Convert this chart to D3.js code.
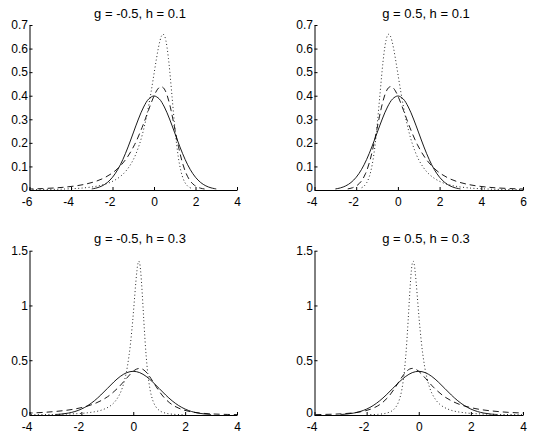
<!DOCTYPE html>
<html>
<head>
<meta charset="utf-8">
<script src="https://cdn.jsdelivr.net/npm/d3@7"></script>
<style>
  html, body { margin: 0; padding: 0; background: #fff; }
  svg { display: block; font-family: "Liberation Sans", Arial, sans-serif; }
  .tick text { font-size: 12px; fill: #000; }
  .title { font-size: 13px; fill: #000; }
</style>
</head>
<body>
<svg id="chart" width="534" height="440"></svg>
<script>
// ---------------- data ----------------
const titles = ["g = -0.5, h = 0.1", "g = 0.5, h = 0.1", "g = -0.5, h = 0.3", "g = 0.5, h = 0.3"];
const xTicksA = [-6, -4, -2, 0, 2, 4];
const xTicksB = [-4, -2, 0, 2, 4, 6];
const xTicksC = [-4, -2, 0, 2, 4];
const yTicksTop = [0, 0.1, 0.2, 0.3, 0.4, 0.5, 0.6, 0.7];
const yTicksBottom = [0, 0.5, 1, 1.5];

// standard normal (solid)
const normX = [-3, -2.75, -2.5, -2.25, -2, -1.75, -1.5, -1.25, -1, -0.75, -0.5, -0.25, 0, 0.25, 0.5, 0.75, 1, 1.25, 1.5, 1.75, 2, 2.25, 2.5, 2.75, 3];
const normY = [0.00443, 0.00909, 0.01753, 0.03174, 0.05399, 0.08628, 0.12952, 0.18265, 0.24197, 0.30114, 0.35207, 0.38667, 0.39894, 0.38667, 0.35207, 0.30114, 0.24197, 0.18265, 0.12952, 0.08628, 0.05399, 0.03174, 0.01753, 0.00909, 0.00443];

// h = 0.1 : dashed (g-and-h) and dotted (standardised) densities
const dashX_h1_neg = [-10.921, -8.626, -6.808, -5.359, -4.198, -3.261, -2.500, -1.878, -1.364, -0.936, -0.575, -0.415, -0.267, -0.129, 0, 0.121, 0.236, 0.344, 0.448, 0.547, 0.643, 0.736, 0.827, 1.005, 1.181, 1.359, 1.544, 1.740, 1.950, 2.181, 2.437];
const dashX_h1_pos = [10.921, 8.626, 6.808, 5.359, 4.198, 3.261, 2.500, 1.878, 1.364, 0.936, 0.575, 0.415, 0.267, 0.129, 0, -0.121, -0.236, -0.344, -0.448, -0.547, -0.643, -0.736, -0.827, -1.005, -1.181, -1.359, -1.544, -1.740, -1.950, -2.181, -2.437];
const dashY_h1 = [0.00043, 0.00112, 0.00271, 0.00614, 0.01298, 0.02563, 0.04720, 0.08100, 0.12942, 0.19221, 0.26493, 0.30225, 0.33819, 0.37101, 0.39894, 0.42036, 0.43389, 0.43862, 0.43411, 0.42060, 0.39878, 0.37002, 0.33591, 0.25929, 0.18351, 0.11921, 0.07121, 0.03921, 0.01994, 0.00939, 0.00410];

const dotX_h1_neg = [-7.037, -5.515, -4.308, -3.347, -2.577, -1.955, -1.450, -1.037, -0.697, -0.413, -0.173, -0.067, 0.031, 0.123, 0.208, 0.289, 0.365, 0.437, 0.506, 0.572, 0.635, 0.697, 0.757, 0.875, 0.992, 1.110, 1.233, 1.363, 1.502, 1.655, 1.825];
const dotX_h1_pos = [7.037, 5.515, 4.308, 3.347, 2.577, 1.955, 1.450, 1.037, 0.697, 0.413, 0.173, 0.067, -0.031, -0.123, -0.208, -0.289, -0.365, -0.437, -0.506, -0.572, -0.635, -0.697, -0.757, -0.875, -0.992, -1.110, -1.233, -1.363, -1.502, -1.655, -1.825];
const dotY_h1 = [0.00065, 0.00168, 0.00408, 0.00925, 0.01956, 0.03863, 0.07114, 0.12208, 0.19506, 0.28970, 0.39930, 0.45555, 0.50972, 0.55918, 0.60128, 0.63356, 0.65396, 0.66108, 0.65429, 0.63392, 0.60104, 0.55769, 0.50628, 0.39080, 0.27658, 0.17967, 0.10733, 0.05910, 0.03005, 0.01415, 0.00618];

// h = 0.3
const dashX_h3_neg = [-26.861, -18.377, -12.718, -8.891, -6.262, -4.429, -3.131, -2.195, -1.507, -0.990, -0.590, -0.421, -0.269, -0.129, 0, 0.121, 0.237, 0.349, 0.459, 0.569, 0.680, 0.795, 0.914, 1.175, 1.479, 1.846, 2.304, 2.886, 3.644, 4.646, 5.993];
const dashX_h3_pos = [26.861, 18.377, 12.718, 8.891, 6.262, 4.429, 3.131, 2.195, 1.507, 0.990, 0.590, 0.421, 0.269, 0.129, 0, -0.121, -0.237, -0.349, -0.459, -0.569, -0.680, -0.795, -0.914, -1.175, -1.479, -1.846, -2.304, -2.886, -3.644, -4.646, -5.993];
const dashY_h3 = [0.00011, 0.00033, 0.00095, 0.00252, 0.00620, 0.01409, 0.02960, 0.05735, 0.10220, 0.16676, 0.24767, 0.29067, 0.33221, 0.36931, 0.39894, 0.41836, 0.42556, 0.41971, 0.40124, 0.37187, 0.33426, 0.29164, 0.24717, 0.16348, 0.09756, 0.05296, 0.02631, 0.01201, 0.00506, 0.00197, 0.00071];

const dotX_h3_neg = [-7.998, -5.427, -3.712, -2.552, -1.756, -1.200, -0.807, -0.523, -0.315, -0.158, -0.037, 0.014, 0.060, 0.102, 0.142, 0.178, 0.214, 0.247, 0.281, 0.314, 0.348, 0.383, 0.419, 0.498, 0.590, 0.701, 0.840, 1.016, 1.246, 1.549, 1.958];
const dotX_h3_pos = [7.998, 5.427, 3.712, 2.552, 1.756, 1.200, 0.807, 0.523, 0.315, 0.158, 0.037, -0.014, -0.060, -0.102, -0.142, -0.178, -0.214, -0.247, -0.281, -0.314, -0.348, -0.383, -0.419, -0.498, -0.590, -0.701, -0.840, -1.016, -1.246, -1.549, -1.958];
const dotY_h3 = [0.00035, 0.00109, 0.00314, 0.00832, 0.02046, 0.04650, 0.09768, 0.18928, 0.33727, 0.55033, 0.81737, 0.95929, 1.09637, 1.21880, 1.31661, 1.38069, 1.40447, 1.38515, 1.32418, 1.22728, 1.10314, 0.96247, 0.81572, 0.53953, 0.32199, 0.17477, 0.08682, 0.03965, 0.01670, 0.00650, 0.00234];

// ---------------- layout ----------------
const zip = (xs, ys) => xs.map((x, i) => [x, ys[i]]);
const panels = [
  { title: titles[0], x0: 29.5, x1: 237, y0: 25, y1: 190, xd: [-6, 4], xt: xTicksA, yd: [0, 0.7], yt: yTicksTop, tx: 140, ty: 17.5,
    dash: zip(dashX_h1_neg, dashY_h1), dot: zip(dotX_h1_neg, dotY_h1) },
  { title: titles[1], x0: 314.5, x1: 523, y0: 25, y1: 190, xd: [-4, 6], xt: xTicksB, yd: [0, 0.7], yt: yTicksTop, tx: 426, ty: 17.5,
    dash: zip(dashX_h1_pos, dashY_h1), dot: zip(dotX_h1_pos, dotY_h1) },
  { title: titles[2], x0: 29.5, x1: 237, y0: 250.7, y1: 415, xd: [-4, 4], xt: xTicksC, yd: [0, 1.5], yt: yTicksBottom, tx: 140, ty: 243,
    dash: zip(dashX_h3_neg, dashY_h3), dot: zip(dotX_h3_neg, dotY_h3) },
  { title: titles[3], x0: 314.5, x1: 523, y0: 250.7, y1: 415, xd: [-4, 4], xt: xTicksC, yd: [0, 1.5], yt: yTicksBottom, tx: 426, ty: 243,
    dash: zip(dashX_h3_pos, dashY_h3), dot: zip(dotX_h3_pos, dotY_h3) }
];

const svg = d3.select("#chart");

panels.forEach((p, i) => {
  const x = d3.scaleLinear().domain(p.xd).range([p.x0, p.x1]);
  const y = d3.scaleLinear().domain(p.yd).range([p.y1, p.y0]);
  const g = svg.append("g");

  const clipId = "clip" + i;
  svg.append("clipPath").attr("id", clipId).append("rect")
    .attr("x", p.x0).attr("y", p.y0 - 2).attr("width", p.x1 - p.x0).attr("height", p.y1 - p.y0 + 2);

  const line = d3.line().x(d => x(d[0])).y(d => y(d[1])).curve(d3.curveCatmullRom);
  const curves = g.append("g").attr("clip-path", `url(#${clipId})`);

  curves.append("path").datum(zip(normX, normY)).attr("d", line)
    .attr("fill", "none").attr("stroke", "#000").attr("stroke-width", 0.9);
  curves.append("path").datum(p.dash).attr("d", line)
    .attr("fill", "none").attr("stroke", "#000").attr("stroke-width", 0.9)
    .attr("stroke-dasharray", "6,4");
  curves.append("path").datum(p.dot).attr("d", line)
    .attr("fill", "none").attr("stroke", "#111").attr("stroke-width", 0.9)
    .attr("stroke-dasharray", "1,2.5");

  const fmt = d => (d === 0 ? "0" : String(+d.toFixed(2)));
  const xAxis = d3.axisBottom(x).tickValues(p.xt).tickSize(-3).tickSizeOuter(0).tickPadding(7).tickFormat(fmt);
  const yAxis = d3.axisLeft(y).tickValues(p.yt).tickSize(-3).tickSizeOuter(0).tickPadding(1.5).tickFormat(fmt);

  const gx = g.append("g").attr("transform", `translate(0,${p.y1})`).call(xAxis);
  const gy = g.append("g").attr("transform", `translate(${p.x0},0)`).call(yAxis);
  [gx, gy].forEach(a => {
    a.select(".domain").attr("stroke", "#000").attr("stroke-width", 1);
    a.selectAll(".tick line").attr("stroke", "#000");
    a.selectAll(".tick text").style("font-family", "'Liberation Sans', Arial, sans-serif").style("font-size", "12px");
  });
  // negative x labels: digit centred on the tick, minus sign hangs to the left
  gx.selectAll(".tick text").attr("dx", d => (d < 0 ? -3 : 0));
  // lift the "0" label of the y axis slightly so it clears the x labels
  gy.selectAll(".tick text").filter(d => d === 0).attr("y", -2);

  g.append("text").attr("class", "title")
    .attr("x", p.tx).attr("y", p.ty).attr("text-anchor", "middle").text(p.title);
});
</script>
</body>
</html>
